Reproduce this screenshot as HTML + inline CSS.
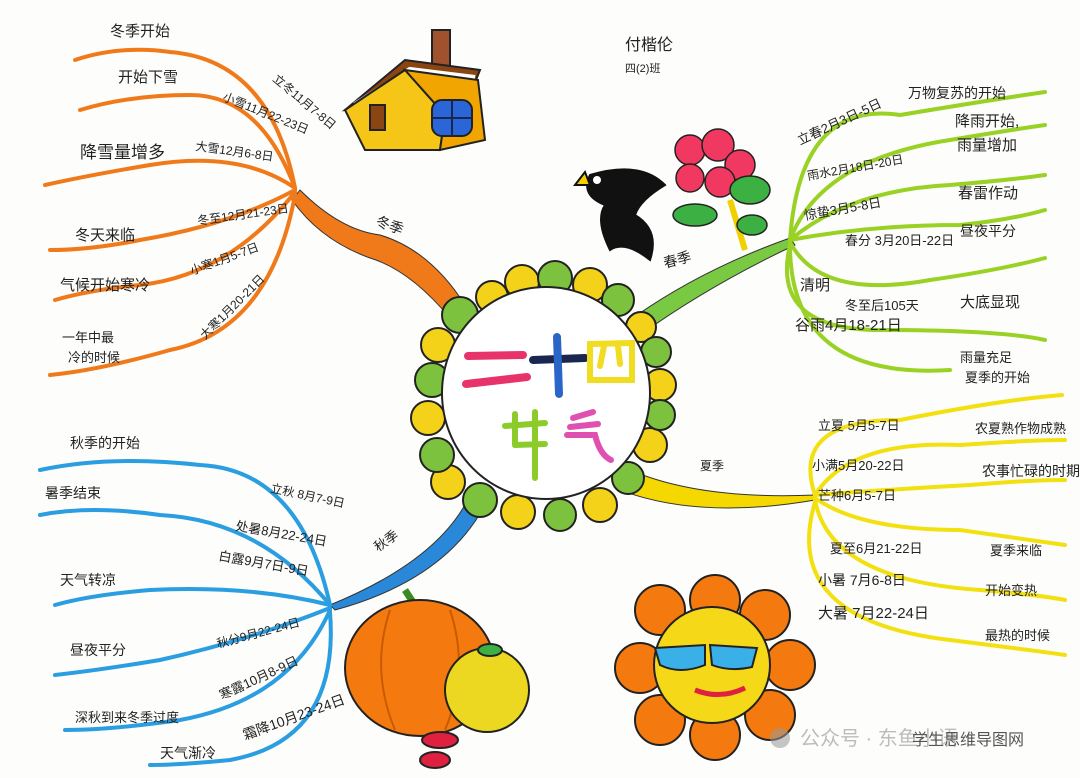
<!DOCTYPE html>
<html><head><meta charset="utf-8"><style>
body{margin:0;background:#fff}
svg{display:block}
text{font-family:"Liberation Sans","Noto Sans CJK SC",sans-serif;fill:#222}
</style></head><body>
<svg width="1080" height="778" viewBox="0 0 1080 778" xmlns="http://www.w3.org/2000/svg">
<rect width="1080" height="778" fill="#fdfdfb"/>

<path d="M300,190 Q340,230 380,235 Q430,250 465,305 L450,318 Q410,270 370,258 Q320,240 292,200Z" fill="#f07a1a" stroke="#333" stroke-width="1"/>
<path d="M630,320 Q700,270 790,238 L795,245 Q710,285 640,335Z" fill="#7ac943" stroke="#333" stroke-width="1"/>
<path d="M630,470 Q700,500 815,495 L815,500 Q700,520 620,490Z" fill="#f5d800" stroke="#333" stroke-width="1"/>
<path d="M470,495 Q440,560 330,605 L335,610 Q445,580 485,505Z" fill="#2a88d8" stroke="#333" stroke-width="1"/>

<g stroke="#222" stroke-width="2">
<g fill="#f4d21a">
<circle cx="522" cy="282" r="17"/><circle cx="590" cy="285" r="17"/><circle cx="492" cy="297" r="16"/>
<circle cx="438" cy="345" r="17"/><circle cx="428" cy="418" r="17"/><circle cx="448" cy="482" r="17"/>
<circle cx="518" cy="512" r="17"/><circle cx="600" cy="505" r="17"/><circle cx="650" cy="445" r="17"/>
<circle cx="660" cy="385" r="16"/><circle cx="641" cy="327" r="15"/>
</g>
<g fill="#7cc23e">
<circle cx="555" cy="278" r="17"/><circle cx="618" cy="300" r="16"/><circle cx="460" cy="315" r="18"/>
<circle cx="432" cy="380" r="17"/><circle cx="437" cy="455" r="17"/><circle cx="480" cy="500" r="17"/>
<circle cx="560" cy="515" r="16"/><circle cx="628" cy="478" r="16"/><circle cx="660" cy="415" r="15"/>
<circle cx="656" cy="352" r="15"/>
</g>
</g>
<ellipse cx="546" cy="393" rx="104" ry="106" fill="#fff" stroke="#222" stroke-width="2"/>
<g stroke-linecap="round" fill="none" stroke-width="8">
<path d="M468,356 L523,355" stroke="#e8336a"/><path d="M466,384 L527,377" stroke="#e8336a"/>
<path d="M533,360 L585,358" stroke="#1a2550"/><path d="M557,337 L559,394" stroke="#2a66c8"/>
<path d="M590,344 L632,343 L632,380 L590,380Z M604,346 L600,366 M618,346 L620,364" stroke="#f0dc20" stroke-width="6"/>
<path d="M505,426 L545,423 M515,414 L515,445 M535,412 L535,478 M515,445 L545,444" stroke="#8ccc2a" stroke-width="6"/>
<path d="M573,418 L593,412 M570,427 L598,424 M567,435 L595,435 Q600,455 611,460" stroke="#e050b0" stroke-width="6"/>
</g>

<g stroke="#f07a1a" stroke-width="4" fill="none" stroke-linecap="round">
<path d="M295,188 Q270,60 170,52 Q120,45 75,60"/>
<path d="M295,188 Q260,95 190,95 Q130,95 80,110"/>
<path d="M295,188 Q240,150 150,165 Q90,175 45,185"/>
<path d="M295,190 Q230,225 140,240 Q90,250 50,250"/>
<path d="M295,192 Q230,275 140,285 Q90,290 55,300"/>
<path d="M295,195 Q270,330 170,350 Q100,370 50,375"/>
</g>
<g font-size="15">
<text x="110" y="36">冬季开始</text>
<text x="118" y="82">开始下雪</text>
<text x="80" y="158" font-size="17">降雪量增多</text>
<text x="75" y="240">冬天来临</text>
<text x="60" y="290">气候开始寒冷</text>
<text x="62" y="342" font-size="13">一年中最</text>
<text x="68" y="362" font-size="13">冷的时候</text>
<text x="272" y="80" font-size="12" transform="rotate(40 272 80)">立冬11月7-8日</text>
<text x="222" y="100" font-size="12" transform="rotate(22 222 100)">小雪11月22-23日</text>
<text x="195" y="150" font-size="12" transform="rotate(8 195 150)">大雪12月6-8日</text>
<text x="198" y="225" font-size="12" transform="rotate(-8 198 225)">冬至12月21-23日</text>
<text x="192" y="275" font-size="12" transform="rotate(-20 192 275)">小寒1月5-7日</text>
<text x="205" y="340" font-size="12" transform="rotate(-45 205 340)">大寒1月20-21日</text>
<text x="375" y="225" font-size="14" transform="rotate(20 375 225)">冬季</text>
</g>

<g stroke="#9ad125" stroke-width="4" fill="none" stroke-linecap="round">
<path d="M790,240 Q800,100 900,115 Q990,100 1045,92"/>
<path d="M790,240 Q820,160 950,140 Q1010,130 1045,125"/>
<path d="M790,240 Q850,190 950,185 Q1010,180 1045,175"/>
<path d="M790,240 Q870,225 960,225 Q1010,220 1045,210"/>
<path d="M790,242 Q820,300 930,280 Q1000,270 1045,258"/>
<path d="M790,245 Q770,330 880,330 Q1000,330 1045,340"/>
<path d="M790,245 Q790,380 950,370"/>
</g>
<g font-size="13">
<text x="908" y="98" font-size="14">万物复苏的开始</text>
<text x="955" y="126" font-size="15">降雨开始,</text>
<text x="957" y="150" font-size="15">雨量增加</text>
<text x="958" y="198" font-size="15">春雷作动</text>
<text x="960" y="236" font-size="14">昼夜平分</text>
<text x="960" y="307" font-size="15">大底显现</text>
<text x="960" y="362" font-size="13">雨量充足</text>
<text x="965" y="382" font-size="13">夏季的开始</text>
<text x="800" y="145" transform="rotate(-25 800 145)">立春2月3日-5日</text>
<text x="808" y="180" font-size="12" transform="rotate(-10 808 180)">雨水2月18日-20日</text>
<text x="805" y="220" transform="rotate(-10 805 220)">惊蛰3月5-8日</text>
<text x="845" y="245">春分 3月20日-22日</text>
<text x="800" y="290" font-size="15">清明</text><text x="845" y="310">冬至后105天</text>
<text x="795" y="330" font-size="15">谷雨4月18-21日</text>
<text x="665" y="268" font-size="14" transform="rotate(-15 665 268)">春季</text>
</g>

<g stroke="#f2e011" stroke-width="4" fill="none" stroke-linecap="round">
<path d="M815,495 Q790,420 900,420 Q1000,400 1062,395"/>
<path d="M815,495 Q850,440 960,445 Q1030,440 1065,440"/>
<path d="M815,495 Q880,490 970,485 Q1030,480 1065,480"/>
<path d="M815,498 Q860,530 960,530 Q1030,540 1065,545"/>
<path d="M815,500 Q830,580 980,590 Q1040,595 1065,600"/>
<path d="M815,502 Q780,620 950,640 Q1030,650 1065,655"/>
</g>
<g font-size="13">
<text x="818" y="430">立夏 5月5-7日</text>
<text x="812" y="470">小满5月20-22日</text>
<text x="818" y="500">芒种6月5-7日</text>
<text x="830" y="553">夏至6月21-22日</text>
<text x="818" y="585" font-size="14">小暑 7月6-8日</text>
<text x="818" y="618" font-size="15">大暑 7月22-24日</text>
<text x="975" y="433">农夏熟作物成熟</text>
<text x="982" y="476" font-size="14">农事忙碌的时期</text>
<text x="990" y="555">夏季来临</text>
<text x="985" y="595">开始变热</text>
<text x="985" y="640">最热的时候</text>
<text x="700" y="470" font-size="12">夏季</text>
</g>

<g stroke="#2a9ee0" stroke-width="4" fill="none" stroke-linecap="round">
<path d="M330,605 Q300,470 200,465 Q110,455 40,470"/>
<path d="M330,605 Q260,520 160,515 Q90,505 40,515"/>
<path d="M330,605 Q250,585 150,590 Q90,595 55,605"/>
<path d="M330,608 Q250,640 160,660 Q100,670 55,675"/>
<path d="M330,610 Q290,700 180,720 Q110,730 65,730"/>
<path d="M330,612 Q340,740 230,760 Q180,765 150,765"/>
</g>
<g font-size="14">
<text x="70" y="448">秋季的开始</text>
<text x="45" y="498">暑季结束</text>
<text x="60" y="585">天气转凉</text>
<text x="70" y="655">昼夜平分</text>
<text x="75" y="722" font-size="13">深秋到来冬季过度</text>
<text x="160" y="758" font-size="14">天气渐冷</text>
<text x="270" y="492" font-size="12" transform="rotate(12 270 492)">立秋 8月7-9日</text>
<text x="235" y="530" font-size="13" transform="rotate(10 235 530)">处暑8月22-24日</text>
<text x="218" y="560" font-size="13" transform="rotate(10 218 560)">白露9月7日-9日</text>
<text x="218" y="648" font-size="12" transform="rotate(-15 218 648)">秋分9月22-24日</text>
<text x="222" y="700" font-size="13" transform="rotate(-25 222 700)">寒露10月8-9日</text>
<text x="245" y="740" font-size="14" transform="rotate(-20 245 740)">霜降10月23-24日</text>
<text x="378" y="552" font-size="13" transform="rotate(-35 378 552)">秋季</text>
</g>

<text x="625" y="50" font-size="16">付楷伦</text>
<text x="625" y="72" font-size="11">四(2)班</text>

<g stroke="#222" stroke-width="2">
<rect x="432" y="30" width="18" height="40" fill="#a0522d"/>
<path d="M345,110 L405,60 L480,70 L470,95 L345,110Z" fill="#8b4513"/>
<path d="M355,105 L410,70 L475,78" fill="none" stroke="#fff" stroke-width="6"/>
<path d="M345,110 L405,70 L445,115 L440,150 L365,150Z" fill="#f5c518"/>
<path d="M405,70 L478,80 L485,140 L440,150 L445,115Z" fill="#f0a500"/>
<rect x="432" y="100" width="40" height="36" rx="10" fill="#2a66d8"/>
<path d="M452,100 V136 M432,118 H472" stroke="#1a2550"/>
<rect x="370" y="105" width="15" height="25" fill="#8b4513"/>
</g>

<g stroke="#111" stroke-width="2">
<path d="M590,175 Q640,160 665,185 Q640,200 635,215 Q660,230 650,260 Q625,240 610,250 Q595,220 605,205 Q580,195 590,175Z" fill="#111"/>
<circle cx="597" cy="180" r="5" fill="#fff"/>
<path d="M585,172 L575,185 L590,185Z" fill="#f5d000"/>
</g>
<g stroke="#222" stroke-width="1.5">
<path d="M730,200 L745,250" stroke="#f0d000" stroke-width="6"/>
<circle cx="690" cy="150" r="15" fill="#f03860"/><circle cx="718" cy="145" r="16" fill="#f03860"/>
<circle cx="740" cy="165" r="15" fill="#f03860"/><circle cx="690" cy="178" r="14" fill="#f03860"/>
<circle cx="720" cy="182" r="15" fill="#f03860"/>
<ellipse cx="750" cy="190" rx="20" ry="14" fill="#3cb043"/>
<ellipse cx="695" cy="215" rx="22" ry="11" fill="#3cb043"/>
<ellipse cx="752" cy="225" rx="15" ry="10" fill="#3cb043"/>
</g>

<g stroke="#222" stroke-width="2">
<path d="M405,590 L418,610" stroke="#3a8a20" stroke-width="7"/>
<ellipse cx="420" cy="668" rx="75" ry="68" fill="#f47a10"/>
<path d="M390,610 Q370,670 395,730 M450,610 Q470,670 445,730" fill="none" stroke="#c85a00"/>
<circle cx="487" cy="690" r="42" fill="#ecd820"/>
<ellipse cx="490" cy="650" rx="12" ry="6" fill="#3cb043"/>
<ellipse cx="440" cy="740" rx="18" ry="8" fill="#e02040"/>
<ellipse cx="435" cy="760" rx="15" ry="8" fill="#e02040"/>
</g>

<g stroke="#222" stroke-width="2">
<g fill="#f47a10">
<circle cx="660" cy="610" r="25"/><circle cx="715" cy="600" r="25"/><circle cx="765" cy="615" r="25"/>
<circle cx="790" cy="665" r="25"/><circle cx="770" cy="715" r="25"/><circle cx="715" cy="735" r="25"/>
<circle cx="660" cy="720" r="25"/><circle cx="640" cy="668" r="25"/>
</g>
<circle cx="712" cy="665" r="58" fill="#f5d818"/>
<path d="M655,648 L705,645 L705,665 Q680,675 660,665Z" fill="#3ab0e8"/>
<path d="M710,645 L757,648 L752,667 Q730,672 712,665Z" fill="#3ab0e8"/>
<path d="M695,690 Q720,700 745,688" stroke="#e02040" stroke-width="5" fill="none"/>
</g>

<g opacity="0.55">
<circle cx="780" cy="738" r="10" fill="#999"/>
<text x="800" y="745" font-size="20" style="fill:#888">公众号 · 东鱼小语</text>
</g>
<text x="912" y="745" font-size="16" style="fill:#555">学生思维导图网</text>
</svg>
</body></html>
